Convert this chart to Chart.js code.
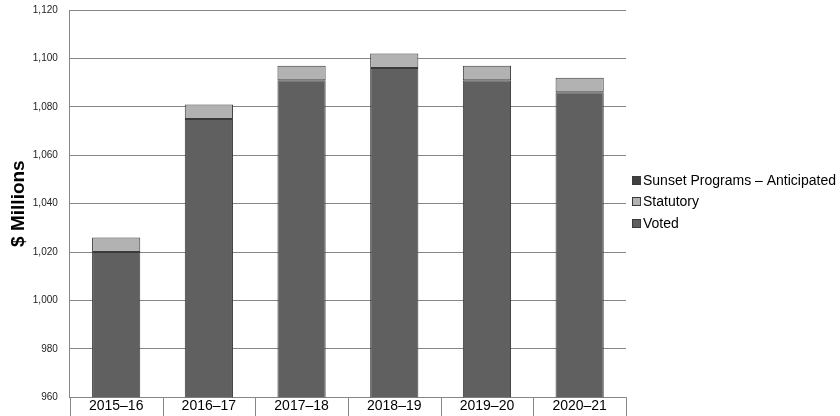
<!DOCTYPE html>
<html>
<head>
<meta charset="utf-8">
<script src="https://cdn.jsdelivr.net/npm/chart.js@4/dist/chart.umd.min.js"></script>
<style>
  html, body { margin: 0; padding: 0; background: #fff; }
  #wrap { width: 840px; height: 416px; position: relative; }
</style>
</head>
<body>
<div id="wrap"><canvas id="myChart"></canvas></div>
<script>
var years = ["2015\u201316", "2016\u201317", "2017\u201318", "2018\u201319", "2019\u201320", "2020\u201321"];
var voted = [1020, 1075, 1091, 1096, 1091, 1086];
var statutory = [6, 6, 6, 6, 6, 6];
var sunset = [0, 0, 0, 0, 0, 0];

var yMin = 960;
var yMax = 1120;
var yStep = 20;

var legendOrder = [2, 1, 0];   // legend lists datasets top-down in reverse

Chart.defaults.font.family = "'Liberation Sans', Arial, sans-serif";
Chart.defaults.color = "#000000";

// category dividers under the plot + the legend on the right
var extras = {
	id: "extras",
	afterDraw: function(chart) {
		var x = chart.scales.x;
		var area = chart.chartArea;
		var c = chart.ctx;
		var n = x.ticks.length;
		var xs = [area.left, area.right];
		for (var i = 0; i < n - 1; i++) {
			xs.push((x.getPixelForTick(i) + x.getPixelForTick(i + 1)) / 2);
		}
		c.save();
		c.strokeStyle = "#868686";
		c.lineWidth = 1;
		c.beginPath();
		for (var j in xs) {
			var px = Math.round(xs[j]) + 0.5;
			c.moveTo(px, area.bottom);
			c.lineTo(px, chart.height);
		}
		c.stroke();

		// legend
		var lx = area.right + 6;
		var ly = chart.height / 2 - 28;
		c.font = "14px 'Liberation Sans', Arial, sans-serif";
		c.textBaseline = "middle";
		c.textAlign = "left";
		for (var k in legendOrder) {
			var ds = chart.data.datasets[legendOrder[k]];
			var cy = ly + k * 21.5;
			c.fillStyle = ds.backgroundColor;
			c.fillRect(lx, Math.round(cy - 4.5), 9, 9);
			c.strokeStyle = "#3a3a3a";
			c.strokeRect(lx + 0.5, Math.round(cy - 4.5) + 0.5, 8, 8);
			c.fillStyle = "#000";
			c.fillText(ds.label, lx + 11, cy + 1);
		}
		c.restore();
	}
};

var ctx = document.getElementById('myChart').getContext('2d');
var chart = new Chart(ctx, {
	type: "bar",
	data: {
		labels: years,
		datasets: [
			{label: "Voted", data: voted, backgroundColor: "#606060", borderColor: "#3a3a3a", borderWidth: 1},
			{label: "Statutory", data: statutory, backgroundColor: "#b2b2b2", borderColor: "#3a3a3a", borderWidth: 1},
			{label: "Sunset Programs \u2013 Anticipated", data: sunset, backgroundColor: "#404040", borderWidth: 0}
		]
	},
	options: {
		responsive: true,
		maintainAspectRatio: false,
		animation: false,
		layout: {padding: {top: 0, right: 214, left: 0, bottom: 0}},
		datasets: {bar: {categoryPercentage: 1, barPercentage: 0.52, borderSkipped: false}},
		plugins: {
			legend: {display: false},
			tooltip: {enabled: false}
		},
		scales: {
			x: {
				stacked: true,
				grid: {display: false, drawTicks: false},
				border: {display: false},
				ticks: {padding: 1, font: {size: 14}, color: "#000"}
			},
			y: {
				stacked: true,
				min: yMin,
				max: yMax,
				grid: {color: "#868686", drawTicks: true, tickLength: 8, tickColor: "rgba(0,0,0,0)"},
				border: {display: true, color: "#868686"},
				ticks: {
					stepSize: yStep,
					padding: 4,
					font: {size: 10},
					color: "#222",
					callback: function(v) { return v.toLocaleString("en-US"); }
				},
				title: {display: true, text: "$ Millions", font: {size: 19, weight: "bold"}, color: "#000", padding: {top: 7, bottom: -1}}
			}
		}
	},
	plugins: [extras]
});
</script>
</body>
</html>
